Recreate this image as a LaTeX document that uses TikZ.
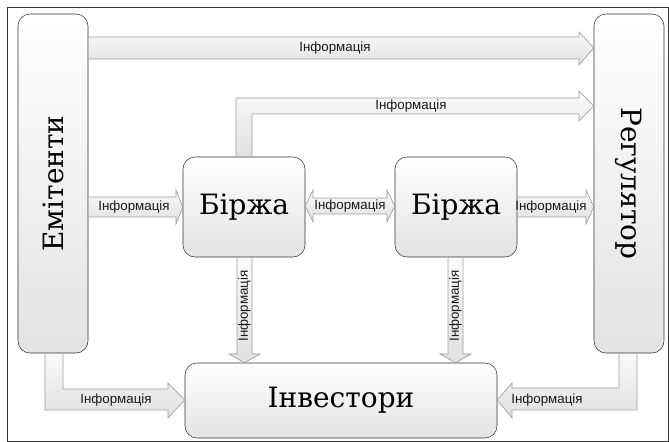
\documentclass[tikz,border=0pt]{standalone}
\usepackage{fontspec}
\setmainfont{DejaVu Serif}
\newfontfamily\labelfont{Liberation Sans}

\begin{document}
\begin{tikzpicture}[x=0.75pt, y=-0.75pt,
    party/.style={draw=black!80, rounded corners=9pt, top color=white, bottom color=gray!22, inner sep=0pt, font=\rmfamily\fontsize{21}{23}\selectfont},
    infoarrow/.style={draw=gray!75, line width=0.5pt, top color=gray!4, bottom color=gray!24},
    infolabel/.style={inner sep=0pt, text=black!90, font=\labelfont\fontsize{10}{11}\selectfont}]
    \useasboundingbox (0,0) rectangle (669,442);
    \draw[black!80] (7,7) rectangle (668.5,441);

    \node[party, minimum width=52.5pt, minimum height=254.25pt] (emit) at (53,183.5) {\rotatebox{90}{Емітенти}};
    \node[party, minimum width=52.5pt, minimum height=254.25pt] (reg) at (629,183.5) {\rotatebox{-90}{Регулятор}};
    \node[party, minimum width=91.5pt, minimum height=75pt] (b1) at (244,207) {Біржа};
    \node[party, minimum width=91.5pt, minimum height=75pt] (b2) at (456,207) {Біржа};
    \node[party, minimum width=234pt, minimum height=56.25pt] (inv) at (341,400.5) {Інвестори};

    % top arrows
    \draw[infoarrow] (emit.east |- 0,37) -- (579,37) -- (579,32) -- (reg.west |- 0,48) -- (579,65) -- (579,59) -- (emit.east |- 0,59) -- cycle;
    \node[infolabel] (l1) at (335,48) {Інформація};
    \draw[infoarrow] (b1.north -| 236,0) -- (236,98) -- (579,98) -- (579,91) -- (reg.west |- 0,106) -- (579,121) -- (579,114) -- (252,114) -- (b1.north -| 252,0) -- cycle;
    \node[infolabel] (l2) at (411,106) {Інформація};

    % middle row
    \draw[infoarrow] (emit.east |- 0,197) -- (176,197) -- (176,190) -- (b1.west |- 0,207) -- (176,224) -- (176,217) -- (emit.east |- 0,217) -- cycle;
    \node[infolabel] (l3) at (134,207) {Інформація};
    \draw[infoarrow] (b1.east |- 0,206) -- (313,190) -- (313,198) -- (387,198) -- (387,190) -- (b2.west |- 0,206) -- (387,222) -- (387,214) -- (313,214) -- (313,222) -- cycle;
    \node[infolabel] (l4) at (350,206) {Інформація};
    \draw[infoarrow] (b2.east |- 0,197) -- (586,197) -- (586,190) -- (reg.west |- 0,207) -- (586,224) -- (586,217) -- (b2.east |- 0,217) -- cycle;
    \node[infolabel] (l5) at (551,207) {Інформація};

    % down to investors
    \draw[infoarrow] (b1.south -| 237,0) -- (237,354) -- (229,354) -- (inv.north -| 244.5,0) -- (260,354) -- (252,354) -- (b1.south -| 252,0) -- cycle;
    \node[infolabel, rotate=90] (l6) at (244.5,306) {Інформація};
    \draw[infoarrow] (b2.south -| 448,0) -- (448,354) -- (440,354) -- (inv.north -| 455.5,0) -- (471,354) -- (463,354) -- (b2.south -| 463,0) -- cycle;
    \node[infolabel, rotate=90] (l7) at (455.5,306) {Інформація};

    % bottom corners
    \draw[infoarrow] (emit.south -| 45,0) -- (45,410) -- (168,410) -- (168,418) -- (inv.west |- 0,400) -- (168,383) -- (168,389) -- (63,389) -- (emit.south -| 63,0) -- cycle;
    \node[infolabel] (l8) at (116,400) {Інформація};
    \draw[infoarrow] (reg.south -| 637,0) -- (637,410) -- (512,410) -- (512,418) -- (inv.east |- 0,400) -- (512,383) -- (512,388) -- (619,388) -- (reg.south -| 619,0) -- cycle;
    \node[infolabel] (l9) at (547,400) {Інформація};
\end{tikzpicture}
\end{document}
